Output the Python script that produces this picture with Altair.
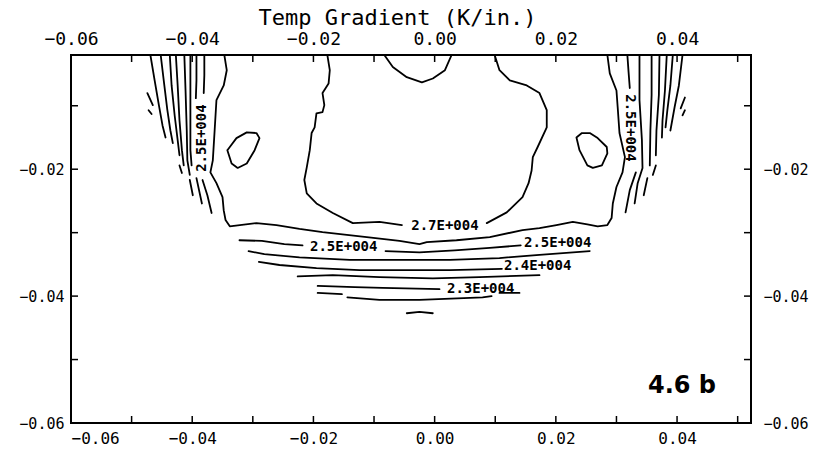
import altair as alt
import pandas as pd

# ---------------- axis values ----------------
x_label_values = [-0.06, -0.04, -0.02, 0.0, 0.02, 0.04]
y_label_values = [-0.02, -0.04, -0.06]
x_minor_ticks = [-0.05, -0.04, -0.03, -0.02, -0.01, 0.0, 0.01, 0.02, 0.03, 0.04, 0.05]
y_minor_ticks = [-0.01, -0.02, -0.03, -0.04, -0.05]
x_domain = [-0.06, 0.0522]
y_domain = [-0.06, -0.002]

# ---------------- contour paths (x, y) ----------------
left_1 = [(-0.0469, -0.0020), (-0.0462, -0.0060), (-0.0455, -0.0099), (-0.0449, -0.0131), (-0.0444, -0.0150)]
left_2 = [(-0.0452, -0.0020), (-0.0447, -0.0060), (-0.0441, -0.0107), (-0.0436, -0.0139), (-0.0432, -0.0159)]
left_3 = [(-0.0437, -0.0020), (-0.0434, -0.0068), (-0.0429, -0.0115), (-0.0424, -0.0154), (-0.0421, -0.0178)]
left_4 = [(-0.0427, -0.0020), (-0.0424, -0.0068), (-0.0421, -0.0123), (-0.0417, -0.0170), (-0.0414, -0.0194)]
left_5 = [(-0.0413, -0.0020), (-0.0411, -0.0076), (-0.0409, -0.0139), (-0.0408, -0.0186), (-0.0404, -0.0209)]
left_6 = [(-0.0403, -0.0020), (-0.0403, -0.0076), (-0.0403, -0.0131), (-0.0403, -0.0170), (-0.0401, -0.0194)]
left_7 = [(-0.0393, -0.0020), (-0.0393, -0.0060), (-0.0394, -0.0088)]
left_label_line = [(-0.0380, -0.0020), (-0.0380, -0.0052), (-0.0381, -0.0080)]
left_dash_1 = [(-0.0474, -0.0080), (-0.0465, -0.0099)]
left_dash_2 = [(-0.0472, -0.0107), (-0.0467, -0.0113)]
left_dash_3 = [(-0.0421, -0.0194), (-0.0417, -0.0206)]
left_dash_4 = [(-0.0404, -0.0217), (-0.0399, -0.0241)]
left_dash_5 = [(-0.0393, -0.0214), (-0.0384, -0.0254)]
left_dash_6 = [(-0.0383, -0.0217), (-0.0375, -0.0241), (-0.0368, -0.0269)]

outer = [(-0.0347, -0.0020), (-0.0343, -0.0044), (-0.0348, -0.0068), (-0.0360, -0.0091),
         (-0.0363, -0.0139), (-0.0366, -0.0186), (-0.0370, -0.0205), (-0.0360, -0.0222),
         (-0.0350, -0.0244), (-0.0348, -0.0265), (-0.0345, -0.0280), (-0.0338, -0.0290),
         (-0.0294, -0.0285), (-0.0261, -0.0288), (-0.0223, -0.0294), (-0.0185, -0.0299),
         (-0.0112, -0.0307), (-0.0058, -0.0313), (-0.0025, -0.0318), (-0.0013, -0.0315),
         (0.0036, -0.0312), (0.0091, -0.0307), (0.0145, -0.0296), (0.0173, -0.0293),
         (0.0201, -0.0288), (0.0228, -0.0283), (0.0252, -0.0287), (0.0269, -0.0290),
         (0.0285, -0.0288), (0.0292, -0.0277), (0.0294, -0.0254), (0.0300, -0.0228),
         (0.0310, -0.0205), (0.0314, -0.0181), (0.0305, -0.0143), (0.0302, -0.0102),
         (0.0300, -0.0076), (0.0289, -0.0049), (0.0285, -0.0020)]

inner_left = [(-0.0177, -0.0020), (-0.0173, -0.0044), (-0.0175, -0.0065), (-0.0185, -0.0080),
              (-0.0182, -0.0099), (-0.0185, -0.0110), (-0.0195, -0.0112), (-0.0198, -0.0134),
              (-0.0203, -0.0143), (-0.0206, -0.0170), (-0.0211, -0.0197), (-0.0215, -0.0217),
              (-0.0211, -0.0238), (-0.0195, -0.0254), (-0.0168, -0.0269), (-0.0135, -0.0285),
              (-0.0091, -0.0283), (-0.0054, -0.0288)]
inner_right = [(0.0086, -0.0285), (0.0119, -0.0268), (0.0145, -0.0244), (0.0155, -0.0222),
               (0.0160, -0.0202), (0.0162, -0.0181), (0.0170, -0.0165), (0.0185, -0.0134),
               (0.0185, -0.0107), (0.0173, -0.0080), (0.0152, -0.0068), (0.0124, -0.0060),
               (0.0107, -0.0044), (0.0099, -0.0020)]

top_cap = [(-0.0083, -0.0020), (-0.0069, -0.0039), (-0.0046, -0.0055), (-0.0021, -0.0063),
           (-0.0003, -0.0057), (0.0017, -0.0044), (0.0028, -0.0020)]

left_oval = [(-0.0342, -0.0170), (-0.0335, -0.0191), (-0.0325, -0.0198), (-0.0310, -0.0191),
             (-0.0297, -0.0170), (-0.0289, -0.0151), (-0.0294, -0.0143), (-0.0310, -0.0142),
             (-0.0327, -0.0151), (-0.0338, -0.0165), (-0.0342, -0.0170)]
right_oval = [(0.0234, -0.0150), (0.0239, -0.0170), (0.0252, -0.0194), (0.0261, -0.0198),
              (0.0276, -0.0194), (0.0285, -0.0175), (0.0284, -0.0165), (0.0269, -0.0151),
              (0.0256, -0.0143), (0.0243, -0.0143), (0.0234, -0.0150)]

right_label_top = [(0.0318, -0.0020), (0.0320, -0.0047), (0.0322, -0.0072)]
right_label_low = [(0.0332, -0.0205), (0.0322, -0.0233), (0.0315, -0.0268)]
right_2 = [(0.0338, -0.0020), (0.0338, -0.0091), (0.0342, -0.0154), (0.0343, -0.0198), (0.0335, -0.0222), (0.0330, -0.0254)]
right_3 = [(0.0358, -0.0020), (0.0358, -0.0083), (0.0356, -0.0139), (0.0355, -0.0194)]
right_3b = [(0.0351, -0.0214), (0.0345, -0.0241)]
right_4 = [(0.0371, -0.0020), (0.0370, -0.0083), (0.0366, -0.0139), (0.0365, -0.0178)]
right_4b = [(0.0365, -0.0194), (0.0360, -0.0209)]
right_5 = [(0.0383, -0.0020), (0.0380, -0.0076), (0.0376, -0.0123), (0.0375, -0.0150)]
right_6 = [(0.0393, -0.0020), (0.0389, -0.0068), (0.0384, -0.0107), (0.0381, -0.0134)]
right_7 = [(0.0409, -0.0020), (0.0403, -0.0068), (0.0396, -0.0102), (0.0389, -0.0139)]
right_dash_1 = [(0.0413, -0.0087), (0.0406, -0.0104)]
right_dash_2 = [(0.0413, -0.0107), (0.0409, -0.0115)]

band_25_left = [(-0.0322, -0.0312), (-0.0285, -0.0313), (-0.0248, -0.0318), (-0.0218, -0.0320)]
band_25_mid = [(-0.0081, -0.0329), (-0.0025, -0.0331), (0.0033, -0.0328), (0.0091, -0.0324), (0.0142, -0.0320)]
band_2 = [(-0.0307, -0.0329), (-0.0281, -0.0334), (-0.0223, -0.0339), (-0.0140, -0.0343), (-0.0058, -0.0343),
          (0.0025, -0.0343), (0.0107, -0.0340), (0.0173, -0.0335), (0.0256, -0.0329)]
band_24 = [(-0.0290, -0.0346), (-0.0256, -0.0351), (-0.0195, -0.0356), (-0.0124, -0.0359), (-0.0058, -0.0359),
           (0.0025, -0.0359), (0.0111, -0.0357)]
band_4 = [(-0.0226, -0.0369), (-0.0168, -0.0367), (-0.0091, -0.0370), (-0.0003, -0.0372), (0.0074, -0.0370), (0.0173, -0.0367)]
band_23 = [(-0.0193, -0.0384), (-0.0132, -0.0386), (-0.0086, -0.0387), (0.0008, -0.0389)]
band_23_tail = [(0.0107, -0.0395), (0.0140, -0.0395)]
band_6a = [(-0.0193, -0.0395), (-0.0153, -0.0397)]
band_6b = [(-0.0144, -0.0402), (-0.0091, -0.0406), (-0.0025, -0.0406), (0.0079, -0.0402), (0.0094, -0.0400)]
band_7 = [(-0.0046, -0.0427), (-0.0025, -0.0425), (-0.0003, -0.0427)]

contours = {
    "left_1": left_1, "left_2": left_2, "left_3": left_3, "left_4": left_4, "left_5": left_5,
    "left_6": left_6, "left_7": left_7, "left_label_line": left_label_line,
    "left_dash_1": left_dash_1, "left_dash_2": left_dash_2, "left_dash_3": left_dash_3,
    "left_dash_4": left_dash_4, "left_dash_5": left_dash_5, "left_dash_6": left_dash_6,
    "outer": outer, "inner_left": inner_left, "inner_right": inner_right, "top_cap": top_cap,
    "left_oval": left_oval, "right_oval": right_oval,
    "right_label_top": right_label_top, "right_label_low": right_label_low,
    "right_2": right_2, "right_3": right_3, "right_3b": right_3b, "right_4": right_4,
    "right_4b": right_4b, "right_5": right_5, "right_6": right_6, "right_7": right_7,
    "right_dash_1": right_dash_1, "right_dash_2": right_dash_2,
    "band_25_left": band_25_left, "band_25_mid": band_25_mid, "band_2": band_2,
    "band_24": band_24, "band_4": band_4, "band_23": band_23, "band_23_tail": band_23_tail,
    "band_6a": band_6a, "band_6b": band_6b, "band_7": band_7,
}

# ---------------- contour labels ----------------
label_text = ["2.5E+004", "2.5E+004", "2.7E+004", "2.5E+004", "2.5E+004", "2.4E+004", "2.3E+004"]
label_x = [-0.0384, 0.0323, 0.0017, -0.0150, 0.0203, 0.0170, 0.0076]
label_y = [-0.0151, -0.0135, -0.0290, -0.0323, -0.0317, -0.0353, -0.0389]
label_angle = [270, 90, 0, 0, 0, 0, 0]

panel_text = ["4.6 b"]
panel_x = [0.0352]
panel_y = [-0.0553]

# ---------------- build tables ----------------
rows = []
for name, pts in contours.items():
    for i, (px, py) in enumerate(pts):
        rows.append({"seg": name, "ord": i, "x": px, "y": py})
lines_df = pd.DataFrame(rows)
labels_df = pd.DataFrame({"t": label_text, "x": label_x, "y": label_y, "a": label_angle})
panel_df = pd.DataFrame({"t": panel_text, "x": panel_x, "y": panel_y})
xt_df = pd.DataFrame({"v": x_minor_ticks})
yt_df = pd.DataFrame({"v": y_minor_ticks})

MONO = "DejaVu Sans Mono"
xscale = alt.Scale(domain=x_domain, nice=False, zero=False)
yscale = alt.Scale(domain=y_domain, nice=False, zero=False)

axis_common = dict(ticks=False, domain=False, grid=False, format=".2f",
                   labelFont=MONO, labelColor="black")

lines = alt.Chart(lines_df).mark_line(color="black", strokeWidth=1.8, strokeCap="round",
                                      strokeJoin="round", clip=True).encode(
    x=alt.X("x:Q", scale=xscale,
            axis=alt.Axis(orient="bottom", values=x_label_values, title=None,
                          labelFontSize=16, labelPadding=7, labelFlush=True, **axis_common)),
    y=alt.Y("y:Q", scale=yscale,
            axis=alt.Axis(orient="left", values=y_label_values, title=None,
                          labelFontSize=15, labelPadding=7, labelFlush=False, **axis_common)),
    detail="seg:N",
    order="ord:Q",
)

top_ticks = alt.Chart(xt_df).mark_rule(color="black", strokeWidth=1.5).encode(
    x=alt.X("v:Q", scale=xscale,
            axis=alt.Axis(orient="top", values=x_label_values, title="Temp Gradient (K/in.)",
                          labelFontSize=18, labelPadding=7, labelFlush=False,
                          titleFont=MONO, titleFontSize=22, titleFontWeight="normal",
                          titleColor="black", titleX=326, titleY=-31,
                          titleBaseline="alphabetic", titleAlign="center", **axis_common)),
    y=alt.value(0), y2=alt.value(7),
)
bottom_ticks = alt.Chart(xt_df).mark_rule(color="black", strokeWidth=1.5).encode(
    x=alt.X("v:Q", scale=xscale, axis=None),
    y=alt.value(368), y2=alt.value(361),
)
right_ticks = alt.Chart(yt_df).mark_rule(color="black", strokeWidth=1.5).encode(
    y=alt.Y("v:Q", scale=yscale,
            axis=alt.Axis(orient="right", values=y_label_values, title=None,
                          labelFontSize=15, labelPadding=12, labelFlush=False, **axis_common)),
    x=alt.value(680), x2=alt.value(673),
)
left_ticks = alt.Chart(yt_df).mark_rule(color="black", strokeWidth=1.5).encode(
    y=alt.Y("v:Q", scale=yscale, axis=None),
    x=alt.value(0), x2=alt.value(7),
)

contour_labels = alt.Chart(labels_df).mark_text(font=MONO, fontSize=14, fontWeight="bold",
                                                color="black", align="center",
                                                baseline="middle").encode(
    x=alt.X("x:Q", scale=xscale, axis=None),
    y=alt.Y("y:Q", scale=yscale, axis=None),
    text="t:N",
    angle=alt.Angle("a:Q", scale=None),
)

panel = alt.Chart(panel_df).mark_text(font="DejaVu Sans", fontSize=24, fontWeight="bold",
                                      color="black", align="left",
                                      baseline="alphabetic").encode(
    x=alt.X("x:Q", scale=xscale, axis=None),
    y=alt.Y("y:Q", scale=yscale, axis=None),
    text="t:N",
)

chart = alt.layer(lines, top_ticks, bottom_ticks, right_ticks, left_ticks,
                  contour_labels, panel).resolve_axis(
    x="independent", y="independent"
).properties(
    width=680, height=368,
    autosize=alt.AutoSizeParams(type="none"),
    padding={"left": 71, "top": 55, "right": 72, "bottom": 28},
    background="white",
).configure_view(stroke="black", strokeWidth=2)

chart.save("out.html", embed_options={"renderer": "svg", "actions": False})
